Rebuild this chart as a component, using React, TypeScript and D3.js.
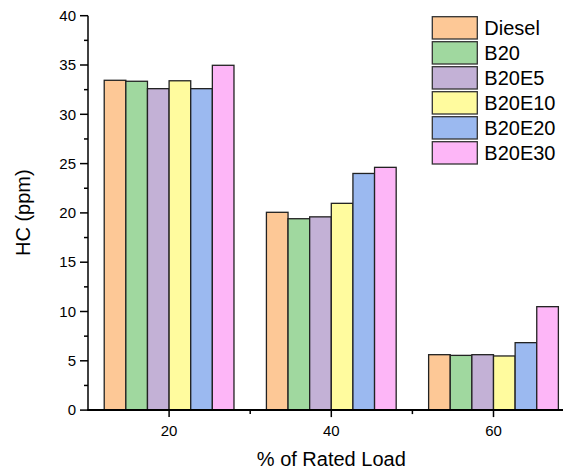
import React from 'react';
import * as d3 from 'd3';

const loads = [20, 40, 60];
const fuels = ['Diesel', 'B20', 'B20E5', 'B20E10', 'B20E20', 'B20E30'];
const colors = ['#fdc896', '#a0d89f', '#c3b1d6', '#fffb9e', '#9bb9f0', '#fdb6f7'];

// HC (ppm) per fuel, one value per load
const diesel = [33.45, 20.06, 5.62];
const b20 = [33.35, 19.41, 5.55];
const b20e5 = [32.6, 19.6, 5.62];
const b20e10 = [33.4, 20.97, 5.49];
const b20e20 = [32.6, 24.0, 6.84];
const b20e30 = [34.97, 24.62, 10.49];
const series = [diesel, b20, b20e5, b20e10, b20e20, b20e30];

const yTicks = [0, 5, 10, 15, 20, 25, 30, 35, 40];
const yMinor = [2.5, 7.5, 12.5, 17.5, 22.5, 27.5, 32.5, 37.5];
const xMinor = [30, 50];

const W = 563;
const H = 472;
const font = 'Arial, "Liberation Sans", sans-serif';

const App: React.FC = () => {
  const x = d3.scaleLinear().domain([10, 70]).range([88, 574.6]);
  const y = d3.scaleLinear().domain([0, 40]).range([410.1, 15.7]);
  const groupWidth = 16;
  const bw = groupWidth / fuels.length;

  return (
    <svg width={W} height={H} style={{ position: 'absolute', left: 0, top: 0, background: '#fff' }}>
      {series.map((vals, si) =>
        vals.map((v, li) => {
          const x0 = x(loads[li] - groupWidth / 2 + si * bw);
          const x1 = x(loads[li] - groupWidth / 2 + (si + 1) * bw);
          return (
            <rect
              key={`${si}-${li}`}
              x={x0}
              y={y(v)}
              width={x1 - x0}
              height={y(0) - y(v)}
              fill={colors[si]}
              stroke="#222"
              strokeWidth={1.3}
            />
          );
        })
      )}

      {/* y axis */}
      <line x1={88} x2={88} y1={y(40)} y2={y(0)} stroke="#000" strokeWidth={1.5} />
      {yTicks.map(t => (
        <g key={t}>
          <line x1={80} x2={88} y1={y(t)} y2={y(t)} stroke="#000" strokeWidth={1.5} />
          <text x={76} y={y(t)} dy="0.35em" textAnchor="end" fontSize={15} fontFamily={font}>{t}</text>
        </g>
      ))}
      {yMinor.map(t => (
        <line key={t} x1={84} x2={88} y1={y(t)} y2={y(t)} stroke="#000" strokeWidth={1.5} />
      ))}

      {/* x axis */}
      <line x1={87.25} x2={W} y1={y(0)} y2={y(0)} stroke="#000" strokeWidth={2} />
      {loads.map(t => (
        <g key={t}>
          <line x1={x(t)} x2={x(t)} y1={y(0)} y2={y(0) + 7} stroke="#000" strokeWidth={1.5} />
          <text x={x(t)} y={436} textAnchor="middle" fontSize={15} fontFamily={font}>{t}</text>
        </g>
      ))}
      {xMinor.map(t => (
        <line key={t} x1={x(t)} x2={x(t)} y1={y(0)} y2={y(0) + 4} stroke="#000" strokeWidth={1.5} />
      ))}

      <text x={331.3} y={466} textAnchor="middle" fontSize={20} fontFamily={font}>% of Rated Load</text>
      <text transform="translate(30,212.7) rotate(-90)" textAnchor="middle" fontSize={20} fontFamily={font}>HC (ppm)</text>

      {/* legend */}
      {fuels.map((f, i) => (
        <g key={f} transform={`translate(432.3,${16.7 + i * 25})`}>
          <rect width={45} height={22.3} fill={colors[i]} stroke="#333" strokeWidth={1.3} />
          <text x={52} y={11.2} dy="0.35em" fontSize={20} fontFamily={font}>{f}</text>
        </g>
      ))}
    </svg>
  );
};

export default App;
